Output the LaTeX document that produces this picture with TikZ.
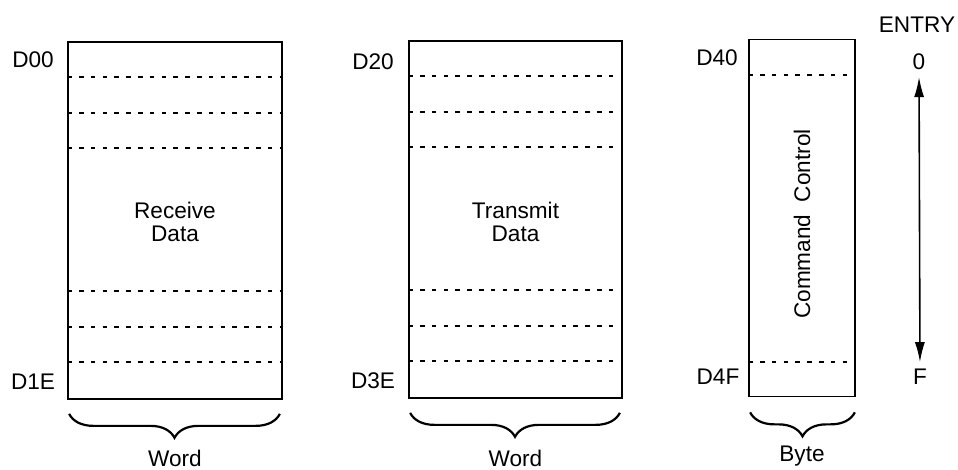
\documentclass[tikz,border=0pt]{standalone}
\usepackage{fontspec}
\setmainfont{Liberation Sans}
\usetikzlibrary{positioning}
\usetikzlibrary{arrows.meta}
\usetikzlibrary{decorations.pathreplacing}

\begin{document}
\begin{tikzpicture}[
     x=0.5pt,y=-0.5pt,
     every node/.style={font=\fontsize{11.3}{11.5}\selectfont},
     mem/.style={draw,line width=0.85pt,minimum height=178.5pt,inner sep=0pt},
     slot/.style={line width=0.9pt,dash pattern=on 2.3pt off 3.6pt},
     wbrace/.style={decorate,decoration={brace,mirror,amplitude=12pt},line width=1.1pt}
   ]
   \path[use as bounding box] (0,0) rectangle (958,470);
   % Buffers.
   \node[mem,minimum width=107pt] (rx) at (175,220.5) {};
   \node[mem,minimum width=106.5pt] (tx) at (515.5,219.5) {};
   \node[mem,minimum width=53pt] (cc) at (802,218) {};
   \node[align=center] (rxt) at (175,222) {Receive\\Data};
   \node[align=center] (txt) at (515.5,222) {Transmit\\Data};
   \node[rotate=90] (cct) at (802,224) {Command\ \ Control};
   % Entries.
   \foreach \d in {35.5,71.5,107,250,285.5,321} {
     \draw[slot] ([shift={(0,\d)}]rx.north west) -- ([shift={(0,\d)}]rx.north east);
     \draw[slot] ([shift={(0,\d)}]tx.north west) -- ([shift={(0,\d)}]tx.north east);
   }
   \draw[slot] ([shift={(0,36)}]cc.north west) -- ([shift={(0,36)}]cc.north east);
   \draw[slot] ([shift={(0,-35)}]cc.south west) -- ([shift={(0,-35)}]cc.south east);
   % Addresses.
   \node (d00) at (33,60) {D00};
   \node (d1e) at (33,382) {D1E};
   \node (d20) at (373,62) {D20};
   \node (d3e) at (373,381) {D3E};
   \node (d40) at (717,58) {D40};
   \node (d4f) at (718,377) {D4F};
   % Entry index.
   \node (entry) at (917,25) {ENTRY};
   \node (e0) at (919,62) {0};
   \node (eF) at (920,377) {F};
   \draw[line width=0.8pt,{Latex[length=10pt,width=5pt]}-{Latex[length=10pt,width=5pt]}] (e0) -- (eF);
   % Widths.
   \draw[wbrace] ([shift={(2,14)}]rx.south west) -- ([shift={(-3,14)}]rx.south east);
   \draw[wbrace] ([shift={(2,14)}]tx.south west) -- ([shift={(-3,14)}]tx.south east);
   \draw[wbrace] ([shift={(2,15)}]cc.south west) -- ([shift={(-1,15)}]cc.south east);
   \node (rxw) at (175,458) {Word};
   \node (txw) at (515.5,458) {Word};
   \node (ccw) at (802,456) {Byte};
 \end{tikzpicture}
\end{document}
